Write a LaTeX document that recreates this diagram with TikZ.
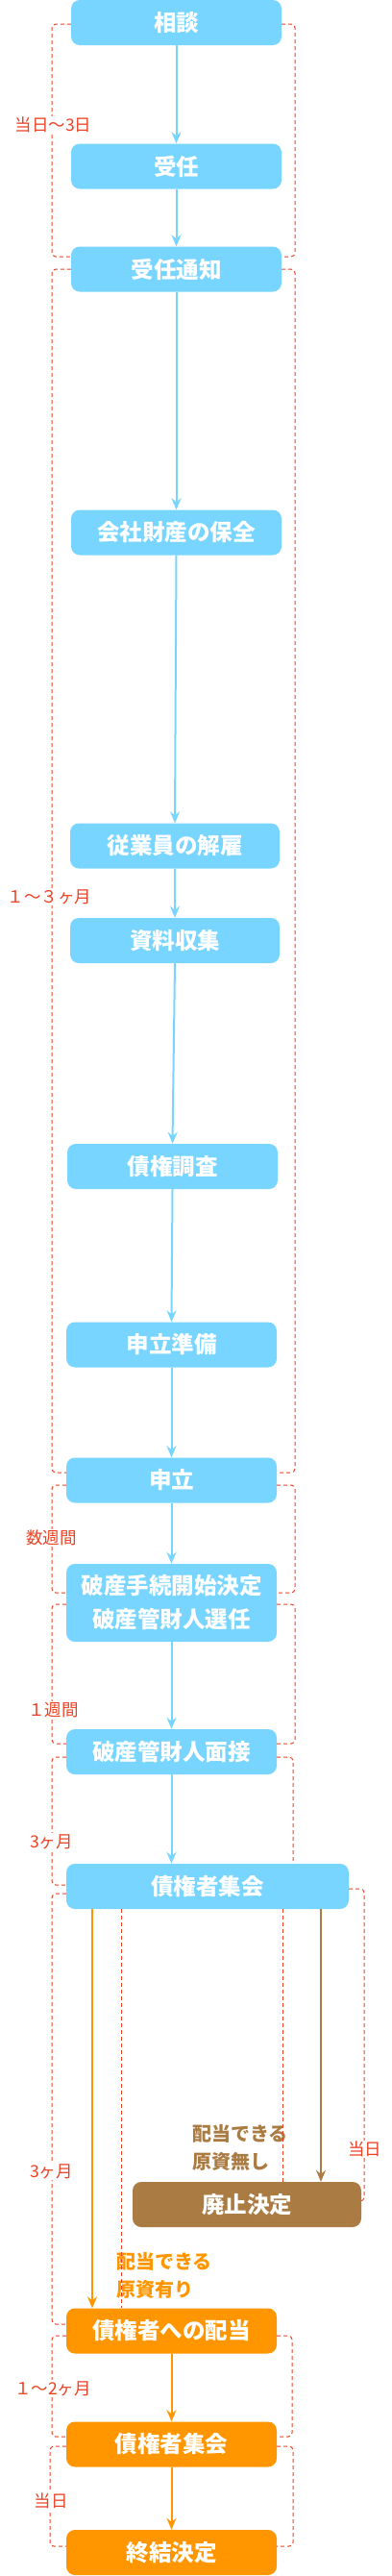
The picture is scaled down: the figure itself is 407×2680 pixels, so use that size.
\documentclass[tikz,border=0pt]{standalone}
\usepackage{fontspec}
\setmainfont{Noto Sans CJK JP}
\usetikzlibrary{arrows.meta,calc}

\definecolor{flowblue}{RGB}{120,213,255}
\definecolor{flowgold}{RGB}{255,150,0}
\definecolor{flowbrown}{RGB}{170,123,66}
\definecolor{spanred}{RGB}{236,66,36}

\begin{document}
\begin{tikzpicture}[x=1pt,y=-1pt,
    stepbox/.style={rectangle,rounded corners=9pt,text=white,inner sep=0pt,
      font=\fontsize{23.5}{35}\selectfont\bfseries,minimum height=47pt,minimum width=219pt},
    bluebox/.style={stepbox,fill=flowblue},
    goldbox/.style={stepbox,fill=flowgold},
    brownbox/.style={stepbox,fill=flowbrown},
    flow/.style={line width=2pt,-{Stealth[length=12pt,width=10pt,inset=4pt]}},
    span/.style={draw=spanred,line width=1pt,dash pattern=on 4pt off 3pt,rounded corners=4pt},
    spanlab/.style={text=spanred,fill=white,inner sep=1pt,font=\fontsize{17.5}{20}\selectfont},
    notelab/.style={anchor=west,align=left,inner sep=0pt,font=\fontsize{20}{29}\selectfont\bfseries}]
  \useasboundingbox (0,0) rectangle (407,2680);

  % steps up to the petition
  \node[bluebox] (soudan)  at (183.5,23.5)  {相談};
  \node[bluebox] (junin)   at (183.5,173)   {受任};
  \node[bluebox] (tsuchi)  at (183.5,280)   {受任通知};
  \node[bluebox] (hozen)   at (183.5,554)   {会社財産の保全};
  \node[bluebox,minimum width=218pt] (kaiko)  at (182,880)   {従業員の解雇};
  \node[bluebox,minimum width=218pt] (shiryo) at (182,978.5) {資料収集};
  \node[bluebox] (chosa)   at (179.5,1213.5) {債権調査};
  \node[bluebox] (junbi)   at (178.5,1399)  {申立準備};
  \node[bluebox] (moushi)  at (178.5,1540)  {申立};
  \node[bluebox,minimum height=81pt,align=center] (kaishi) at (178.5,1667.5)
        {破産手続開始決定\\破産管財人選任};
  \node[bluebox] (mensetsu) at (178.5,1822.5) {破産管財人面接};
  \node[bluebox,minimum width=294pt] (shukai) at (216,1962.5) {債権者集会};

  % two outcomes of the meeting
  \node[brownbox,minimum width=238pt] (haishi) at (257,2293.5) {廃止決定};
  \node[goldbox] (haito)    at (178.5,2425)  {債権者への配当};
  \node[goldbox] (shukai2)  at (178.5,2543)  {債権者集会};
  \node[goldbox] (shuketsu) at (178.5,2655.5) {終結決定};

  \node[notelab,text=flowbrown] (nashi) at (200,2234.5) {配当できる\\原資無し};
  \node[notelab,text=flowgold]  (ari)   at (121,2367)   {配当できる\\原資有り};

  % arrows
  \foreach \a/\b in {soudan/junin,junin/tsuchi,tsuchi/hozen,hozen/kaiko,kaiko/shiryo,
                     shiryo/chosa,chosa/junbi,junbi/moushi,moushi/kaishi,kaishi/mensetsu}
    \draw[flow,flowblue] (\a.south) -- (\b.north);
  \draw[flow,flowblue] (mensetsu.south) -- (mensetsu.south |- shukai.north);
  \draw[flow,flowgold] ([xshift=-120pt]shukai.south) coordinate (goldtop)
        -- (goldtop |- haito.north);
  \draw[flow,flowbrown] ([xshift=118pt]shukai.south) coordinate (browntop)
        -- (browntop |- haishi.north);
  \draw[flow,flowgold] (haito.south) -- (shukai2.north);
  \draw[flow,flowgold] (shukai2.south) -- (shuketsu.north);

  % dashed spans, left side
  \foreach \a/\b/\ya/\yb/\xs in {soudan/tsuchi/25/267/54,tsuchi/moushi/280/1532/54,
      moushi/kaishi/1545/1657/54,kaishi/mensetsu/1669/1814/54,
      mensetsu/shukai/1828/1961/54,shukai/haito/1970/2418/54,
      haito/shukai2/2430/2535/54,shukai2/shuketsu/2545/2649/52}
    \draw[span] (\a.west |- 0,\ya) -- (\xs,\ya) -- (\xs,\yb) -- (\b.west |- 0,\yb);

  % dashed spans, right side
  \foreach \a/\b/\ya/\yb/\xs in {soudan/tsuchi/25/267/307,tsuchi/moushi/280/1532/307,
      moushi/kaishi/1545/1657/307,kaishi/mensetsu/1669/1814/307,
      shukai/haishi/1965/2290/379,haito/shukai2/2430/2535/304,
      shukai2/shuketsu/2545/2649/305}
    \draw[span] (\a.east |- 0,\ya) -- (\xs,\ya) -- (\xs,\yb) -- (\b.east |- 0,\yb);
  \draw[span] (mensetsu.east |- 0,1828) -- (305,1828) -- (305,1828 |- shukai.north);
  \draw[span] (126,1986 |- shukai.south) -- (126,0 |- haito.north);
  \draw[span] (294,1986 |- shukai.south) -- (294,0 |- haishi.north);

  % durations
  \node[spanlab] (d1) at (55.5,130)  {当日～3日};
  \node[spanlab] (d2) at (51.5,933)  {１～３ヶ月};
  \node[spanlab] (d3) at (53.5,1600) {数週間};
  \node[spanlab] (d4) at (55.5,1779) {１週間};
  \node[spanlab] (d5) at (53.5,1916) {3ヶ月};
  \node[spanlab] (d6) at (53.5,2259) {3ヶ月};
  \node[spanlab] (d7) at (379.5,2236) {当日};
  \node[spanlab] (d8) at (55,2485)   {１～2ヶ月};
  \node[spanlab] (d9) at (53,2602)   {当日};
\end{tikzpicture}
\end{document}
